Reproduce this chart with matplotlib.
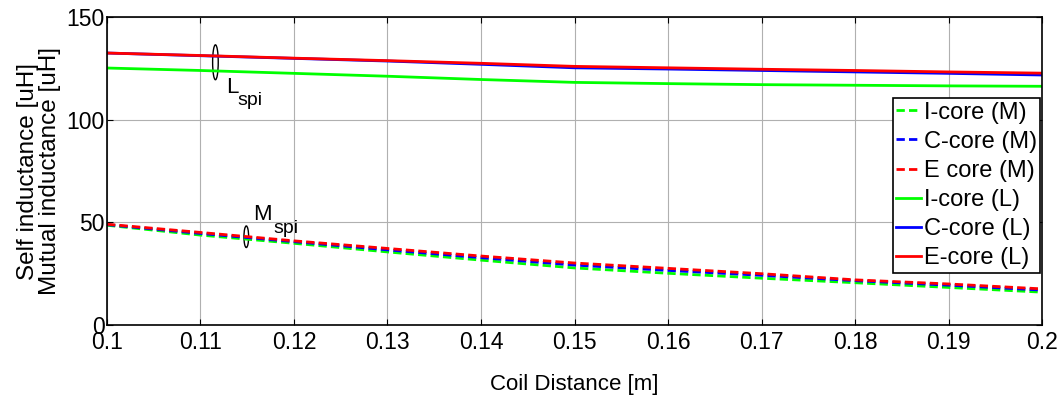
import matplotlib.pyplot as plt
from matplotlib.patches import Ellipse

plt.rcParams["font.family"] = ["Liberation Sans", "DejaVu Sans"]

distance = [0.10, 0.11, 0.12, 0.13, 0.14, 0.15, 0.16, 0.17, 0.18, 0.19, 0.20]

# mutual inductance [uH]
m_icore = [48.6, 43.8, 39.8, 35.6, 31.6, 27.8, 25.2, 22.8, 20.6, 18.3, 16.0]
m_ccore = [48.9, 44.6, 40.6, 36.6, 32.8, 29.2, 26.6, 24.2, 21.6, 19.4, 17.0]
m_ecore = [49.1, 45.1, 41.0, 37.3, 33.6, 30.2, 27.6, 25.0, 22.0, 20.0, 17.6]

# self inductance [uH]
l_icore = [125.2, 124.0, 122.6, 121.2, 119.6, 118.2, 117.6, 117.1, 116.8, 116.5, 116.3]
l_ccore = [132.5, 131.2, 129.9, 128.6, 127.0, 125.3, 124.7, 124.0, 123.3, 122.6, 121.8]
l_ecore = [132.5, 131.3, 130.0, 128.8, 127.5, 126.0, 125.3, 124.6, 124.0, 123.3, 122.7]

x_ticks = [0.1, 0.11, 0.12, 0.13, 0.14, 0.15, 0.16, 0.17, 0.18, 0.19, 0.2]
x_tick_labels = ["0.1", "0.11", "0.12", "0.13", "0.14", "0.15", "0.16", "0.17", "0.18", "0.19", "0.2"]
y_ticks = [0, 50, 100, 150]

fig = plt.figure(figsize=(10.59, 3.98), dpi=100)
ax = fig.add_axes([0.101, 0.1834, 0.883, 0.7736])

dash = (3, 1.5)
ax.plot(distance, m_icore, color="#00ff00", lw=2, dashes=dash, label="I-core (M)")
ax.plot(distance, m_ccore, color="#0000ff", lw=2, dashes=dash, label="C-core (M)")
ax.plot(distance, m_ecore, color="#ff0000", lw=2, dashes=dash, label="E core (M)")
ax.plot(distance, l_icore, color="#00ff00", lw=2, label="I-core (L)")
ax.plot(distance, l_ccore, color="#0000ff", lw=2, label="C-core (L)")
ax.plot(distance, l_ecore, color="#ff0000", lw=2, label="E-core (L)")

ax.set_xlim(0.1, 0.2)
ax.set_ylim(0, 150)
ax.set_xticks(x_ticks)
ax.set_xticklabels(x_tick_labels)
ax.set_yticks(y_ticks)
ax.tick_params(direction="in", labelsize=16.5, top=True, right=True, length=4)
ax.tick_params(axis="y", pad=1.5)
ax.tick_params(axis="x", pad=4)
ax.grid(True, color="#b0b0b0", lw=0.8)
for s in ax.spines.values():
    s.set_linewidth(1.2)

ax.set_xlabel("Coil Distance [m]", fontsize=16, labelpad=15)
ax.set_ylabel("Self inductance [uH]\nMutual inductance [uH]", fontsize=17.5, labelpad=4,
              linespacing=1.0)

# annotation ellipses with MATLAB-style subscripts
ax.add_patch(Ellipse((0.1116, 128), 0.0006, 17, fill=False, lw=1.0, color="black"))
ax.text(0.1127, 113, "L", fontsize=16, ha="left", va="baseline")
ax.text(0.1140, 107.2, "spi", fontsize=14, ha="left", va="baseline")
ax.add_patch(Ellipse((0.1149, 43), 0.0005, 10.5, fill=False, lw=1.0, color="black"))
ax.text(0.1156, 51.1, "M", fontsize=16, ha="left", va="baseline")
ax.text(0.11775, 44.8, "spi", fontsize=14, ha="left", va="baseline")

leg = ax.legend(loc="upper right", bbox_to_anchor=(0.998, 0.737), fontsize=17,
                handlelength=1.05, handletextpad=0.1, borderpad=0.15, labelspacing=0.3,
                borderaxespad=0.0, fancybox=False, framealpha=1, edgecolor="black")
leg.get_frame().set_linewidth(1.2)

fig.savefig("out.png", dpi=100)
